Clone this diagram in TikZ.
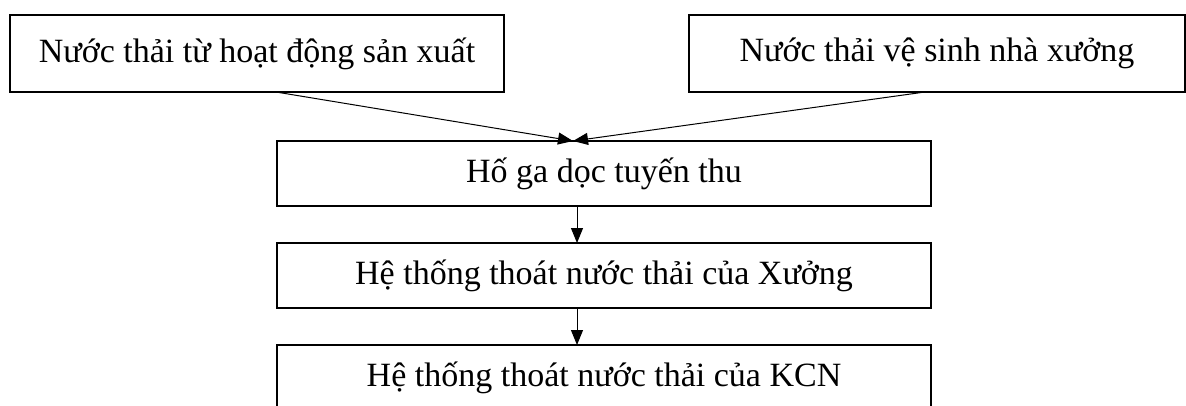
\documentclass[tikz,border=0pt]{standalone}
\usepackage{fontspec}
\setmainfont{Liberation Serif}
\usetikzlibrary{positioning,arrows.meta}

\begin{document}
\begin{tikzpicture}[
  x=1pt, y=-1pt,
  node distance=37pt,
  box/.style={draw, line width=1.5pt, minimum height=65pt, minimum width=654pt, inner sep=0pt, outer sep=0pt, font=\fontsize{34}{40}\selectfont},
  src/.style={box, minimum height=77pt},
  arrow/.style={-{Triangle[length=15pt, width=12pt]}, line width=1pt}
]
\useasboundingbox (0,0) rectangle (1186,405);

% two sources on top
\node[src, minimum width=494pt] (sx) at (257,53.5) {Nước thải từ hoạt động sản xuất};
\node[src, minimum width=496pt] (vs) at (937,53.5) {Nước thải vệ sinh nhà xưởng};

% collecting chain
\node[box] (hoga) at (604,173.5) {Hố ga dọc tuyến thu};
\node[box, below=of hoga] (xuong) {Hệ thống thoát nước thải của Xưởng};
\node[box, below=of xuong] (kcn) {Hệ thống thoát nước thải của KCN};

\coordinate (join) at ([xshift=-31pt]hoga.north);
\draw[arrow] ([xshift=19pt]sx.south) -- (join);
\draw[arrow] ([xshift=-12pt]vs.south) -- (join);
\draw[arrow] ([xshift=-27pt]hoga.south) -- ([xshift=-27pt]xuong.north);
\draw[arrow] ([xshift=-27pt]xuong.south) -- ([xshift=-27pt]kcn.north);
\end{tikzpicture}
\end{document}
